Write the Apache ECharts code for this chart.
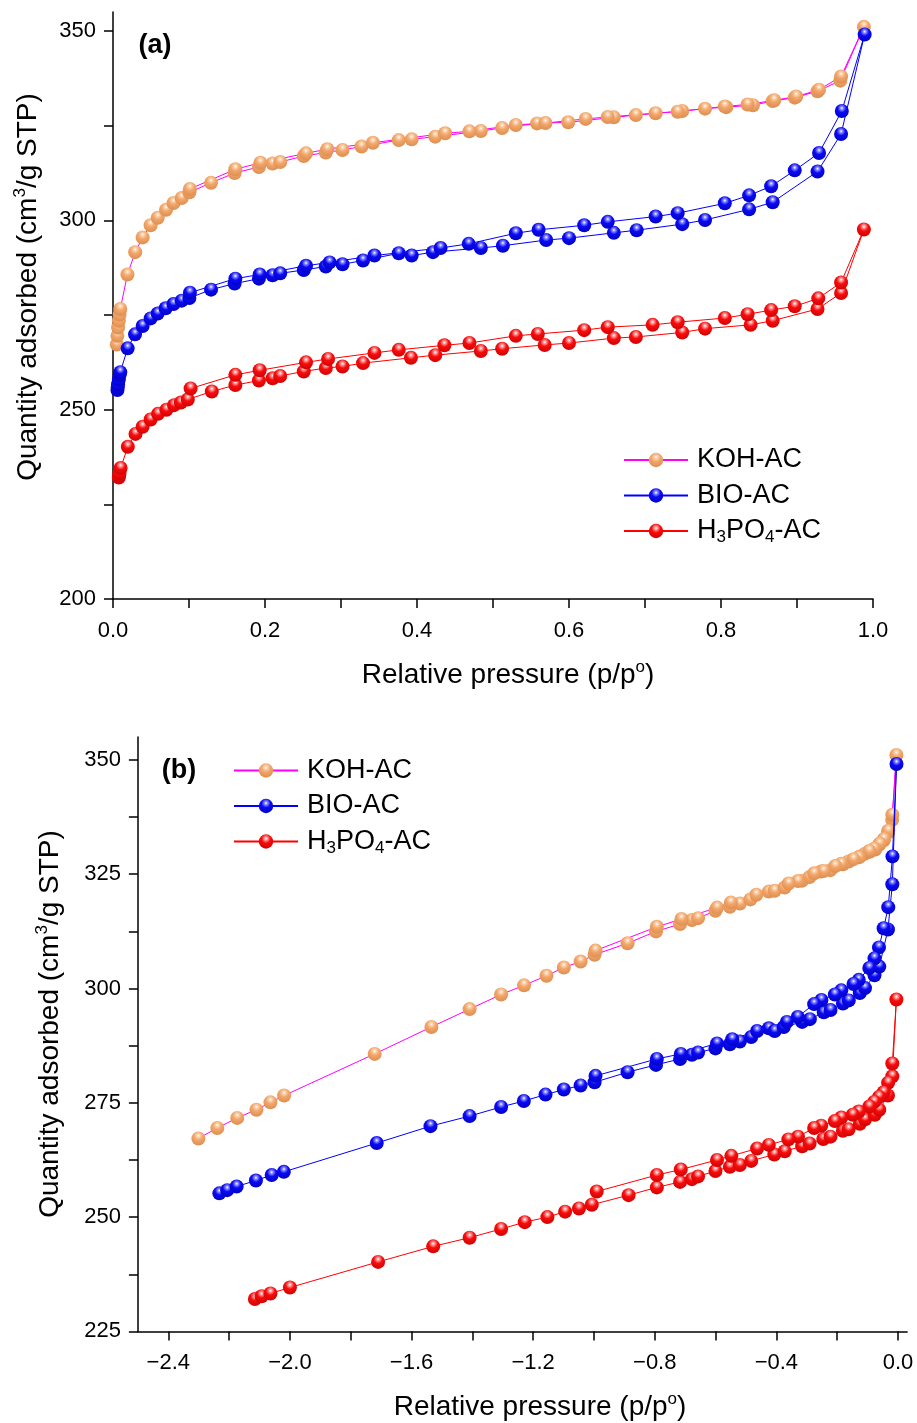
<!DOCTYPE html>
<html>
<head>
<meta charset="utf-8">
<script src="https://cdn.jsdelivr.net/npm/echarts@6.0.0/dist/echarts.min.js"></script>
<style>
  html, body { margin: 0; padding: 0; background: #ffffff; }
  #chart { width: 917px; height: 1423px; }
</style>
</head>
<body>
<div id="chart"></div>
<script>
// N2 adsorption–desorption isotherms of three activated carbons.
// Relative pressure p/p0 and quantity adsorbed (cm3/g STP), adsorption then desorption branch.

const kohAdsP = [0.0050, 0.00577, 0.00671, 0.00776, 0.00863, 0.00957, 0.0190, 0.0292, 0.0390, 0.0495,
  0.0589, 0.0698, 0.0796, 0.0904, 0.1005, 0.129, 0.160, 0.192, 0.210, 0.220, 0.251, 0.280, 0.302, 0.327,
  0.376, 0.393, 0.424, 0.484, 0.512, 0.558, 0.599, 0.659, 0.688, 0.749, 0.779, 0.807, 0.842, 0.868, 0.897,
  0.927, 0.957, 0.988];
const kohAdsQ = [267.2, 269.5, 271.7, 273.5, 275.1, 276.6, 285.7, 291.6, 295.5, 298.7,
  300.7, 302.8, 304.6, 305.9, 307.4, 309.9, 312.5, 314.1, 315.0, 315.4, 317.0, 317.9, 318.6, 319.5,
  321.2, 321.4, 322.1, 323.6, 324.4, 325.6, 325.9, 327.2, 327.8, 328.9, 329.5, 329.9, 330.4, 331.5, 332.4,
  334.1, 336.9, 351.1];
const kohDesP = [0.958, 0.929, 0.899, 0.870, 0.835, 0.805, 0.743, 0.714, 0.651, 0.622, 0.569, 0.530,
  0.469, 0.437, 0.342, 0.282, 0.254, 0.194, 0.161, 0.1012];
const kohDesQ = [338.0, 334.5, 332.7, 331.7, 330.6, 330.1, 328.7, 328.3, 327.3, 326.8, 325.7, 325.2,
  323.5, 323.0, 320.5, 318.8, 317.7, 315.2, 313.5, 308.3];

const bioAdsP = [0.00586, 0.00622, 0.00668, 0.00773, 0.00871, 0.00955, 0.0193, 0.0290, 0.0390, 0.0495,
  0.0588, 0.0693, 0.0796, 0.0904, 0.1005, 0.129, 0.160, 0.192, 0.210, 0.220, 0.251, 0.280, 0.302, 0.329,
  0.376, 0.393, 0.421, 0.484, 0.513, 0.570, 0.600, 0.659, 0.689, 0.749, 0.779, 0.837, 0.868, 0.927,
  0.958, 0.989];
const bioAdsQ = [255.2, 255.9, 256.7, 258.0, 259.2, 259.9, 266.2, 269.9, 272.1, 274.1,
  275.4, 276.8, 277.9, 278.8, 279.5, 281.7, 283.3, 284.6, 285.5, 286.0, 286.9, 287.8, 288.4, 289.4,
  291.3, 290.7, 291.6, 292.7, 293.3, 294.8, 295.3, 296.7, 297.4, 299.0, 300.1, 302.9, 304.8, 312.9,
  322.8, 349.1];
const bioDesP = [0.959, 0.929, 0.897, 0.866, 0.837, 0.805, 0.743, 0.714, 0.651, 0.620, 0.560, 0.530,
  0.468, 0.431, 0.344, 0.285, 0.254, 0.193, 0.161, 0.1012];
const bioDesQ = [328.9, 317.8, 313.2, 309.0, 306.6, 304.5, 301.9, 301.0, 299.6, 298.7, 297.5, 296.6,
  293.8, 292.7, 290.7, 288.9, 288.0, 285.7, 284.6, 280.9];

const h3poAdsP = [0.00767, 0.00807, 0.00863, 0.0100, 0.0195, 0.0296, 0.0390, 0.0495, 0.0592, 0.0703,
  0.0804, 0.0893, 0.0984, 0.130, 0.161, 0.192, 0.210, 0.220, 0.251, 0.280, 0.302, 0.329, 0.392, 0.424,
  0.484, 0.512, 0.568, 0.600, 0.659, 0.688, 0.749, 0.779, 0.839, 0.868, 0.927, 0.958, 0.988];
const h3poAdsQ = [232.1, 232.7, 233.3, 234.6, 240.2, 243.6, 245.5, 247.4, 248.9, 250.0,
  251.2, 251.9, 252.7, 254.8, 256.5, 257.7, 258.3, 258.9, 260.1, 261.0, 261.4, 262.3, 263.7, 264.4,
  265.5, 266.1, 267.1, 267.6, 268.9, 269.2, 270.4, 271.4, 272.4, 273.5, 276.6, 280.8, 297.6];
const h3poDesP = [0.958, 0.928, 0.897, 0.866, 0.835, 0.805, 0.743, 0.710, 0.651, 0.620, 0.559, 0.530,
  0.469, 0.436, 0.376, 0.344, 0.283, 0.254, 0.193, 0.161, 0.1021];
const h3poDesQ = [283.6, 279.4, 277.3, 276.3, 275.2, 274.2, 273.1, 272.4, 271.8, 271.0, 270.0, 269.5,
  267.6, 267.0, 265.8, 265.0, 263.4, 262.5, 260.4, 259.2, 255.6];

const seriesNames = ['KOH-AC', 'BIO-AC', 'H3PO4-AC'];

// axis ticks and labels
const topXLabels = [0, 0.2, 0.4, 0.6, 0.8, 1.0];
const topXTicks = [0, 0.1, 0.2, 0.3, 0.4, 0.5, 0.6, 0.7, 0.8, 0.9, 1.0];
const topYLabels = [200, 250, 300, 350];
const topYTicks = [200, 225, 250, 275, 300, 325, 350];
const botXLabels = [-2.4, -2.0, -1.6, -1.2, -0.8, -0.4, 0];
const botXTicks = [-2.4, -2.2, -2.0, -1.8, -1.6, -1.4, -1.2, -1.0, -0.8, -0.6, -0.4, -0.2, 0];
const botYLabels = [225, 250, 275, 300, 325, 350];
const botYTicks = [225, 237.5, 250, 262.5, 275, 287.5, 300, 312.5, 325, 337.5, 350];

const FONT = '"Liberation Sans", Arial, Helvetica, sans-serif';

// shaded sphere markers
function ball(light, base, dark) {
  return {
    type: 'radial', x: 0.5, y: 0.3, r: 0.78,
    colorStops: [
      { offset: 0, color: '#ffffff' },
      { offset: 0.14, color: light },
      { offset: 0.4, color: base },
      { offset: 1, color: dark }
    ]
  };
}
const styles = {
  'KOH-AC': { line: '#ff00ff', fill: ball('#fbd3ae', '#f2a66a', '#d9894c') },
  'BIO-AC': { line: '#0000ff', fill: ball('#8c8cff', '#0a0af5', '#0000b8') },
  'H3PO4-AC': { line: '#ff0000', fill: ball('#ff9a9a', '#f80c0c', '#c80000') }
};

const pressure = p => p;
const logPressure = p => Math.log10(p);

function isotherm(adsP, adsQ, desP, desQ, xf) {
  const pts = adsP.map((p, i) => [xf(p), adsQ[i]]);
  return pts.concat(desP.map((p, i) => [xf(p), desQ[i]]));
}

const sets = [
  [kohAdsP, kohAdsQ, kohDesP, kohDesQ],
  [bioAdsP, bioAdsQ, bioDesP, bioDesQ],
  [h3poAdsP, h3poAdsQ, h3poDesP, h3poDesQ]
];

const series = [];
[[0, pressure], [1, logPressure]].forEach(([g, xf]) => {
  sets.forEach((s, k) => {
    const name = seriesNames[k];
    series.push({
      type: 'line', name, xAxisIndex: g, yAxisIndex: g,
      data: isotherm(s[0], s[1], s[2], s[3], xf),
      symbol: 'circle', symbolSize: 14, showAllSymbol: true,
      lineStyle: { color: styles[name].line, width: 1 },
      itemStyle: { color: styles[name].fill, borderWidth: 0 },
      emphasis: { disabled: true },
      z: 2 + k
    });
  });
});

const fmtTop = v => v.toFixed(1);
const fmtBot = v => (v < -1e-9 ? '\u2212' : '') + Math.abs(v).toFixed(1);

function xAxis(grid, min, max, labels, ticks, fmt) {
  return {
    type: 'value', gridIndex: grid, min, max,
    axisLine: { show: true, onZero: false, lineStyle: { color: '#000', width: 1.5 } },
    axisTick: { show: true, inside: false, length: 9, customValues: ticks, lineStyle: { color: '#000', width: 1.5 } },
    axisLabel: { customValues: labels, formatter: fmt, margin: 21, color: '#000', fontSize: 22, fontFamily: FONT },
    splitLine: { show: false }
  };
}
function yAxis(grid, min, max, labels, ticks) {
  return {
    type: 'value', gridIndex: grid, min, max,
    axisLine: { show: true, onZero: false, lineStyle: { color: '#000', width: 1.5 } },
    axisTick: { show: true, inside: false, length: 9, customValues: ticks, lineStyle: { color: '#000', width: 1.5 } },
    axisLabel: { customValues: labels, margin: 17, color: '#000', fontSize: 22, fontFamily: FONT },
    splitLine: { show: false }
  };
}

const legendRich = { s: { fontSize: 17, lineHeight: 11, verticalAlign: 'bottom', fontFamily: FONT, color: '#000' } };
function legendRow(name, left, centerY) {
  return {
    data: [name], left, top: centerY - 15, padding: 0, selectedMode: false,
    itemWidth: 64, itemHeight: 18,
    formatter: n => (n === 'H3PO4-AC' ? 'H{s|3}PO{s|4}-AC' : n),
    textStyle: { fontFamily: FONT, fontSize: 27, lineHeight: 30, color: '#000', padding: [0, 0, 0, 4], rich: legendRich }
  };
}

const supRich = { sup: { fontSize: 17, lineHeight: 18, verticalAlign: 'top', fontFamily: FONT, fill: '#000' } };
function titleText(text, x, y, rot) {
  return {
    type: 'text', x, y, rotation: rot || 0, silent: true,
    style: {
      text, fontSize: 28, fontFamily: FONT, fill: '#000', lineHeight: 32,
      align: 'center', verticalAlign: 'middle', rich: supRich
    }
  };
}
function panelTag(text, x, y) {
  return {
    type: 'text', x, y, silent: true,
    style: { text, fontSize: 27, fontWeight: 'bold', fontFamily: FONT, fill: '#000', align: 'center', verticalAlign: 'middle' }
  };
}

const option = {
  animation: false,
  backgroundColor: '#ffffff',
  grid: [
    { left: 113, top: 12.1, width: 760, height: 586.9 },
    { left: 137.9, top: 737.1, width: 769.2, height: 594.3 }
  ],
  xAxis: [
    xAxis(0, 0, 1.0, topXLabels, topXTicks, fmtTop),
    xAxis(1, -2.5, 0.03, botXLabels, botXTicks, fmtBot)
  ],
  yAxis: [
    yAxis(0, 200, 355, topYLabels, topYTicks),
    yAxis(1, 225, 355, botYLabels, botYTicks)
  ],
  legend: [
    legendRow('KOH-AC', 623, 460),
    legendRow('BIO-AC', 623, 495.5),
    legendRow('H3PO4-AC', 623, 531),
    legendRow('KOH-AC', 233, 770.5),
    legendRow('BIO-AC', 233, 806),
    legendRow('H3PO4-AC', 233, 841.5)
  ],
  graphic: [
    panelTag('(a)', 155, 46),
    panelTag('(b)', 179, 771),
    titleText('Relative pressure (p/p{sup|o})', 508, 675),
    titleText('Relative pressure (p/p{sup|o})', 540, 1407),
    titleText('Quantity adsorbed (cm{sup|3}/g STP)', 28, 287, Math.PI / 2),
    titleText('Quantity adsorbed (cm{sup|3}/g STP)', 50, 1024, Math.PI / 2)
  ],
  series
};

const chart = echarts.init(document.getElementById('chart'), null, { renderer: 'canvas' });
chart.setOption(option);
</script>
</body>
</html>
